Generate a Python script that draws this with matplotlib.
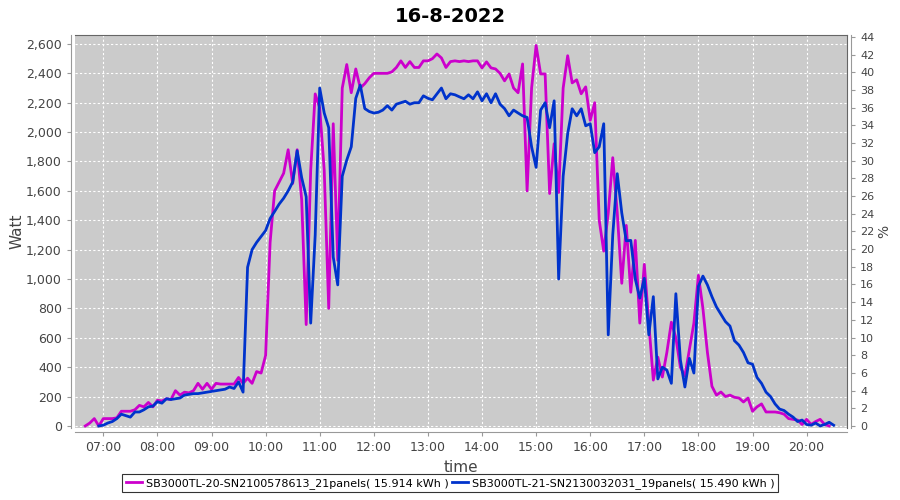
import numpy as np
import matplotlib
matplotlib.use("Agg")
import matplotlib.pyplot as plt
from matplotlib.ticker import FuncFormatter, MultipleLocator

# Данные: отсчёты каждые 5 минут начиная с 06:40
start_hour = 6 + 40 / 60
step_min = 5

name_a = "SB3000TL-20-SN2100578613_21panels( 15.914 kWh )"
name_b = "SB3000TL-21-SN2130032031_19panels( 15.490 kWh )"

# SB3000TL-20 (пурпурный), Вт
watt_a = [
    0, 20, 50, 0, 50, 50, 50, 55, 100, 100,
    100, 110, 140, 130, 160, 130, 175, 170, 185, 180,
    240, 210, 230, 225, 240, 290, 250, 290, 250, 290,
    285, 285, 285, 285, 330, 290, 325, 290, 370, 360,
    480, 1250, 1600, 1660, 1720, 1880, 1650, 1880, 1540, 690,
    1740, 2260, 2165, 1740, 800, 2057, 1127, 2300, 2460, 2268,
    2430, 2300, 2330, 2370, 2400, 2400, 2400, 2400, 2410, 2440,
    2485, 2440, 2480, 2440, 2440, 2485, 2485, 2500, 2532, 2505,
    2440, 2480, 2485, 2480, 2485, 2480, 2485, 2485, 2437, 2478,
    2437, 2430, 2400, 2349, 2396, 2300, 2268, 2464, 1600, 2300,
    2590, 2396, 2396, 1582, 1921, 1589, 2300, 2520, 2335, 2356,
    2261, 2308, 2080, 2200, 1400, 1190, 1450, 1826, 1450, 971,
    1365, 910, 1263, 700, 1100, 700, 312, 468, 333, 500,
    706, 600, 400, 340, 520, 700, 1025, 800, 500, 270,
    210, 231, 200, 210, 195, 190, 163, 190, 100, 130,
    150, 95, 95, 95, 90, 80, 50, 45, 40, 10,
    45, 10, 30, 45, 10, 0,
]

# SB3000TL-21 (синий), Вт; до 06:55 данных нет
watt_b = [
    np.nan, np.nan, np.nan, 0, 5, 20, 30, 50, 80, 70,
    60, 95, 95, 110, 130, 135, 165, 155, 185, 180,
    185, 190, 210, 215, 220, 220, 225, 230, 235, 240,
    245, 250, 265, 255, 300, 230, 1080, 1200, 1249, 1290,
    1330, 1412, 1460, 1510, 1550, 1600, 1660, 1873, 1690, 1560,
    700, 1300, 2300, 2130, 2030, 1150, 960, 1700, 1810, 1900,
    2230, 2320, 2160, 2140, 2130, 2135, 2150, 2180, 2150, 2190,
    2200, 2210, 2190, 2200, 2200, 2247, 2230, 2220, 2260, 2300,
    2227, 2261, 2254, 2240, 2227, 2254, 2227, 2274, 2213, 2261,
    2200, 2261, 2190, 2160, 2111, 2150, 2130, 2111, 2100, 1900,
    1760, 2150, 2200, 2030, 2213, 1000, 1700, 1989, 2159, 2111,
    2159, 2043, 2057, 1860, 1900, 2057, 620, 1300, 1717, 1450,
    1260, 1263, 1000, 870, 1005, 620, 880, 320, 400, 380,
    290, 900, 450, 265, 460, 360, 950, 1020, 960, 880,
    810, 760, 710, 680, 580, 550, 500, 430, 420, 330,
    290, 230, 200, 150, 115, 105, 80, 60, 30, 40,
    10, 5, 20, 0, 10, 25, 5,
]

hours_a = start_hour + np.arange(len(watt_a)) * step_min / 60
hours_b = start_hour + np.arange(len(watt_b)) * step_min / 60

tick_hours = list(range(7, 21))

fig = plt.figure(figsize=(9, 5), dpi=100)
ax = fig.add_axes([75 / 900, 1 - 428 / 500, (847 - 75) / 900, (428 - 35) / 500])
ax.set_facecolor("#cbcbcb")

ax.plot(hours_a, watt_a, color="#cc00cc", lw=2, label=name_a, zorder=3)
ax.plot(hours_b, watt_b, color="#0033cc", lw=2, label=name_b, zorder=3)

ax.set_xlim(6 + 28.6 / 60, 20 + 44.8 / 60)
ax.set_ylim(-14, 2661)
ax.set_xticks(tick_hours)
ax.xaxis.set_major_formatter(FuncFormatter(lambda v, p: f"{int(round(v)):02d}:00"))
ax.yaxis.set_major_locator(MultipleLocator(200))
ax.yaxis.set_major_formatter(FuncFormatter(lambda v, p: f"{int(v):,}"))
ax.grid(True, color="white", ls=(0, (2, 2)), lw=0.8)
ax.set_axisbelow(True)

for s in ["top", "right"]:
    ax.spines[s].set_color("#666666")
ax.spines["left"].set_position(("outward", 3))
ax.spines["bottom"].set_position(("outward", 3))
ax.spines["left"].set_color("#999999")
ax.spines["bottom"].set_color("#999999")
ax.tick_params(colors="#444444", labelsize=9, length=3, width=0.8)
ax.tick_params(axis="both", color="#999999")

ax.set_ylabel("Watt", fontsize=11, color="#444444", labelpad=1)
ax.set_xlabel("time", fontsize=11, color="#444444", labelpad=4)

# правая ось в процентах
ax2 = ax.twinx()
ax2.set_ylim(-14 / 60.18, 2661 / 60.18)
ax2.yaxis.set_major_locator(MultipleLocator(2))
ax2.spines["right"].set_position(("outward", 3))
ax2.spines["right"].set_color("#999999")
for s in ["top", "left", "bottom"]:
    ax2.spines[s].set_visible(False)
ax2.tick_params(colors="#444444", labelsize=8, length=3, width=0.8)
ax2.tick_params(axis="y", color="#999999")
ax2.set_ylabel("%", fontsize=10, color="#444444", labelpad=2)

fig.suptitle("16-8-2022", x=0.5, y=0.985, fontsize=14, fontweight="bold")

leg = fig.legend(loc="lower center", bbox_to_anchor=(0.5, 0.005), ncol=2,
                 fontsize=8, frameon=True, fancybox=False, handlelength=1.5,
                 handletextpad=0.3, columnspacing=0.3, borderpad=0.3)
leg.get_frame().set_edgecolor("black")
leg.get_frame().set_linewidth(0.8)

fig.savefig("out.png", dpi=100)
